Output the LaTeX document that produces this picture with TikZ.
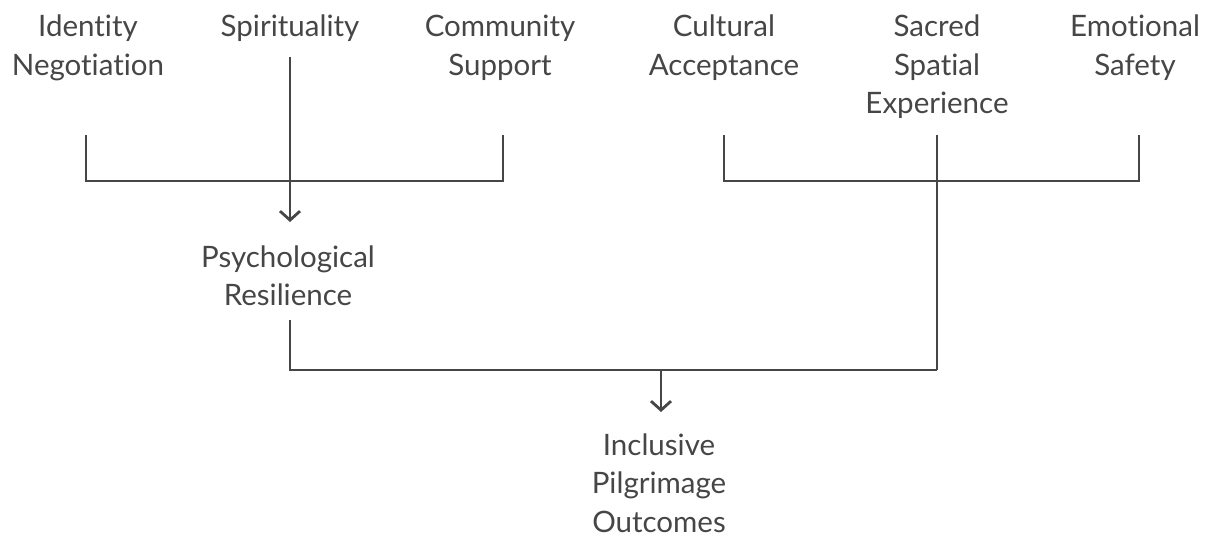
\documentclass[tikz,border=0pt]{standalone}
\usepackage{fontspec}
\setmainfont[RawFeature={-liga;-clig;-dlig;-calt}]{Lato}
\usetikzlibrary{arrows.meta}

\definecolor{txtgray}{HTML}{464646}
\definecolor{lngray}{HTML}{464646}

\begin{document}
\begin{tikzpicture}[x=1pt, y=-1pt,
        lbl/.style={text=txtgray, align=center, anchor=base, inner sep=0pt,
            font=\fontsize{29.5}{38.5}\selectfont},
        conn/.style={draw=lngray, line width=2.8pt},
        arr/.style={conn, -{Straight Barb[length=9pt, width=20pt]}}]
        \useasboundingbox (0,0) rectangle (1210,537);

        % top row (base = last line)
        \node[lbl] (idn) at (88,75.5) {Identity\\Negotiation};
        \node[lbl] (spi) at (290,37) {Spirituality};
        \node[lbl] (com) at (500,75.5) {Community\\Support};
        \node[lbl] (cul) at (724,75.5) {Cultural\\Acceptance};
        \node[lbl] (ssx) at (937,114) {Sacred\\Spatial\\Experience};
        \node[lbl] (emo) at (1135,75.5) {Emotional\\Safety};

        % middle and bottom
        \node[lbl] (psy) at (288,305.5) {Psychological\\Resilience};
        \node[lbl] (ipo) at (659,532) {Inclusive\\Pilgrimage\\Outcomes};

        \coordinate (idn-out) at (86,135);
        \coordinate (com-out) at (503,135);
        \coordinate (spi-out) at (290,57);
        \coordinate (psy-in) at (290,222);
        \coordinate (left-bar) at (290,181);
        \coordinate (cul-out) at (724,135);
        \coordinate (emo-out) at (1139,135);
        \coordinate (ssx-out) at (937,135);
        \coordinate (right-bar) at (937,181);
        \coordinate (psy-out) at (290,320);
        \coordinate (low-bar) at (937,370);
        \coordinate (low-mid) at (661,370);
        \coordinate (ipo-in) at (661,412);

        \draw[conn] (idn-out) |- (left-bar) -| (com-out);
        \draw[arr] (spi-out) -- (psy-in);
        \draw[conn] (cul-out) |- (right-bar) -| (emo-out);
        \draw[conn] (ssx-out) -- (low-bar);
        \draw[conn] (psy-out) |- (low-bar);
        \draw[arr] (low-mid) -- (ipo-in);
\end{tikzpicture}
\end{document}
